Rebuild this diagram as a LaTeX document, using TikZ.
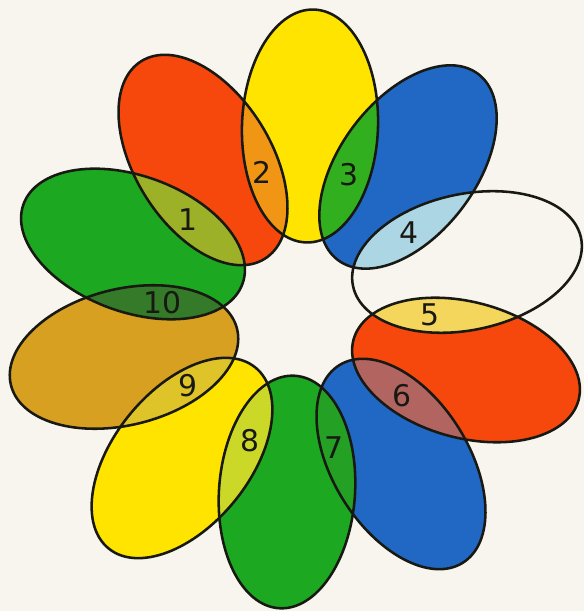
\documentclass[tikz,border=0pt]{standalone}
\usepackage{fontspec}
\usepackage{xcolor}
\usepackage{tikz}
\newfontfamily\numfont{DejaVu Sans}
\definecolor{paper}{RGB}{248,245,238}
\definecolor{inkline}{RGB}{25,25,20}
\definecolor{petalyellow}{RGB}{255,228,0}
\definecolor{petalred}{RGB}{246,72,12}
\definecolor{petalgreen}{RGB}{28,168,32}
\definecolor{petalblue}{RGB}{32,104,196}
\definecolor{petalochre}{RGB}{216,160,32}
\definecolor{mixone}{RGB}{156,176,40}
\definecolor{mixtwo}{RGB}{240,150,20}
\definecolor{mixthree}{RGB}{50,175,30}
\definecolor{mixfour}{RGB}{172,214,228}
\definecolor{mixfive}{RGB}{244,214,92}
\definecolor{mixsix}{RGB}{178,100,96}
\definecolor{mixseven}{RGB}{36,160,36}
\definecolor{mixeight}{RGB}{204,216,40}
\definecolor{mixnine}{RGB}{222,196,40}
\definecolor{mixten}{RGB}{52,122,40}

\begin{document}
\begin{tikzpicture}[
    x=0.02cm, y=0.02cm,
    outline/.style={draw=inkline, line width=1.45pt},
    num/.style={font=\numfont\fontsize{17}{17}\selectfont, text=inkline, inner sep=0pt},
    ptop/.style={shift={(310,485)}, rotate=88},
    ptopleft/.style={shift={(203,451)}, rotate=122},
    pleftup/.style={shift={(133,367)}, rotate=160},
    pleftlow/.style={shift={(124,254)}, rotate=194},
    pbotleft/.style={shift={(182,153)}, rotate=51},
    pbot/.style={shift={(287,119)}, rotate=86},
    pbotright/.style={shift={(401,147)}, rotate=122},
    prightlow/.style={shift={(466,241)}, rotate=165},
    prightup/.style={shift={(467,349)}, rotate=12},
    ptopright/.style={shift={(408,444)}, rotate=53}
]
% Paper
\fill[paper] (0,0) rectangle (584,611);
\useasboundingbox (0,0) rectangle (584,611);

% Petals
\fill[ptop, petalyellow] (0,0) ellipse (116.5 and 68);
\fill[ptopleft, petalred] (0,0) ellipse (116.5 and 68);
\fill[pleftup, petalgreen] (0,0) ellipse (116.5 and 68);
\fill[pleftlow, petalochre] (0,0) ellipse (116.5 and 68);
\fill[pbotleft, petalyellow] (0,0) ellipse (116.5 and 68);
\fill[pbot, petalgreen] (0,0) ellipse (116.5 and 68);
\fill[pbotright, petalblue] (0,0) ellipse (116.5 and 68);
\fill[prightlow, petalred] (0,0) ellipse (116.5 and 68);
\fill[prightup, paper] (0,0) ellipse (116.5 and 68);
\fill[ptopright, petalblue] (0,0) ellipse (116.5 and 68);

% Overlaps
\begin{scope}
  \clip[pleftup] (0,0) ellipse (116.5 and 68);
  \fill[ptopleft, mixone] (0,0) ellipse (116.5 and 68);
\end{scope}
\begin{scope}
  \clip[ptopleft] (0,0) ellipse (116.5 and 68);
  \fill[ptop, mixtwo] (0,0) ellipse (116.5 and 68);
\end{scope}
\begin{scope}
  \clip[ptop] (0,0) ellipse (116.5 and 68);
  \fill[ptopright, mixthree] (0,0) ellipse (116.5 and 68);
\end{scope}
\begin{scope}
  \clip[ptopright] (0,0) ellipse (116.5 and 68);
  \fill[prightup, mixfour] (0,0) ellipse (116.5 and 68);
\end{scope}
\begin{scope}
  \clip[prightup] (0,0) ellipse (116.5 and 68);
  \fill[prightlow, mixfive] (0,0) ellipse (116.5 and 68);
\end{scope}
\begin{scope}
  \clip[prightlow] (0,0) ellipse (116.5 and 68);
  \fill[pbotright, mixsix] (0,0) ellipse (116.5 and 68);
\end{scope}
\begin{scope}
  \clip[pbotright] (0,0) ellipse (116.5 and 68);
  \fill[pbot, mixseven] (0,0) ellipse (116.5 and 68);
\end{scope}
\begin{scope}
  \clip[pbot] (0,0) ellipse (116.5 and 68);
  \fill[pbotleft, mixeight] (0,0) ellipse (116.5 and 68);
\end{scope}
\begin{scope}
  \clip[pbotleft] (0,0) ellipse (116.5 and 68);
  \fill[pleftlow, mixnine] (0,0) ellipse (116.5 and 68);
\end{scope}
\begin{scope}
  \clip[pleftlow] (0,0) ellipse (116.5 and 68);
  \fill[pleftup, mixten] (0,0) ellipse (116.5 and 68);
\end{scope}

% Outlines
\draw[outline, ptop] (0,0) ellipse (116.5 and 68);
\draw[outline, ptopleft] (0,0) ellipse (116.5 and 68);
\draw[outline, pleftup] (0,0) ellipse (116.5 and 68);
\draw[outline, pleftlow] (0,0) ellipse (116.5 and 68);
\draw[outline, pbotleft] (0,0) ellipse (116.5 and 68);
\draw[outline, pbot] (0,0) ellipse (116.5 and 68);
\draw[outline, pbotright] (0,0) ellipse (116.5 and 68);
\draw[outline, prightlow] (0,0) ellipse (116.5 and 68);
\draw[outline, prightup] (0,0) ellipse (116.5 and 68);
\draw[outline, ptopright] (0,0) ellipse (116.5 and 68);

% Numbers
\node[num] (one) at (188,391) {1};
\node[num] (two) at (262,439) {2};
\node[num] (three) at (349,436) {3};
\node[num] (four) at (409,378) {4};
\node[num] (five) at (430,296) {5};
\node[num] (six) at (402,215) {6};
\node[num] (seven) at (334,163) {7};
\node[num] (eight) at (250,170) {8};
\node[num] (nine) at (188,225) {9};
\node[num] (ten) at (163,308) {10};
\end{tikzpicture}
\end{document}
